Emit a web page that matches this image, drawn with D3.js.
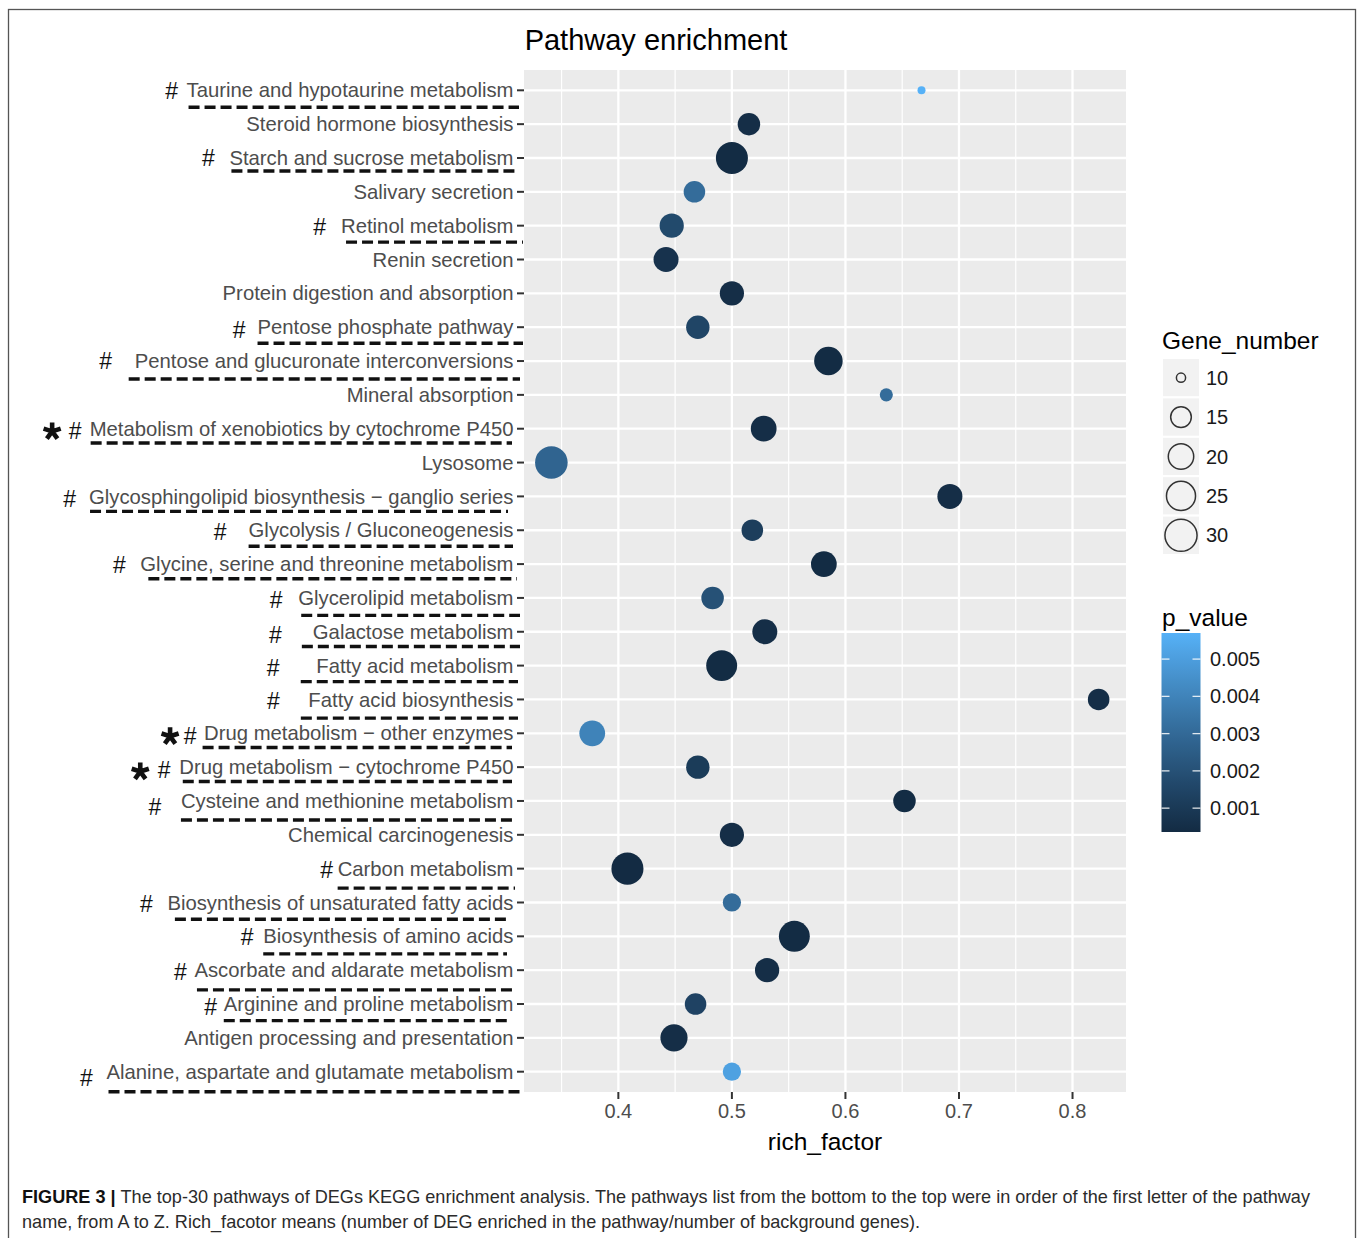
<!DOCTYPE html>
<html>
<head>
<meta charset="utf-8">
<script src="https://cdn.jsdelivr.net/npm/d3@7"></script>
<style>
  html, body { margin: 0; padding: 0; background: #ffffff; }
  svg { display: block; font-family: "Liberation Sans", Arial, sans-serif; }
</style>
</head>
<body>
<svg id="chart" width="1358" height="1238"></svg>
<script>
// KEGG pathways, alphabetical (A at the bottom of the chart)
const pathways = [
  "Alanine, aspartate and glutamate metabolism",
  "Antigen processing and presentation",
  "Arginine and proline metabolism",
  "Ascorbate and aldarate metabolism",
  "Biosynthesis of amino acids",
  "Biosynthesis of unsaturated fatty acids",
  "Carbon metabolism",
  "Chemical carcinogenesis",
  "Cysteine and methionine metabolism",
  "Drug metabolism \u2212 cytochrome P450",
  "Drug metabolism \u2212 other enzymes",
  "Fatty acid biosynthesis",
  "Fatty acid metabolism",
  "Galactose metabolism",
  "Glycerolipid metabolism",
  "Glycine, serine and threonine metabolism",
  "Glycolysis / Gluconeogenesis",
  "Glycosphingolipid biosynthesis \u2212 ganglio series",
  "Lysosome",
  "Metabolism of xenobiotics by cytochrome P450",
  "Mineral absorption",
  "Pentose and glucuronate interconversions",
  "Pentose phosphate pathway",
  "Protein digestion and absorption",
  "Renin secretion",
  "Retinol metabolism",
  "Salivary secretion",
  "Starch and sucrose metabolism",
  "Steroid hormone biosynthesis",
  "Taurine and hypotaurine metabolism"
];
const richFactor = [
  0.500, 0.449, 0.468, 0.531, 0.555, 0.500, 0.408, 0.500, 0.652, 0.470,
  0.377, 0.823, 0.491, 0.529, 0.483, 0.581, 0.518, 0.692, 0.341, 0.528,
  0.636, 0.585, 0.470, 0.500, 0.442, 0.447, 0.467, 0.500, 0.515, 0.667
];
const geneNumber = [
  14, 24, 17, 20, 30, 14, 32, 20, 18, 19,
  22, 17, 30, 21, 18, 22, 17, 21, 33, 22,
  11, 26, 19, 20, 21, 20, 17, 32, 18, 10
];
const pValue = [
  0.0051, 0.0005, 0.0014, 0.0005, 0.0004, 0.0031, 0.00036, 0.0005, 0.0004, 0.0011,
  0.0040, 0.0005, 0.0004, 0.0005, 0.0020, 0.0004, 0.0012, 0.0005, 0.0028, 0.0005,
  0.0031, 0.0004, 0.0015, 0.0005, 0.0007, 0.0017, 0.0031, 0.0004, 0.0005, 0.0057
];
const xTicks = [0.4, 0.5, 0.6, 0.7, 0.8];
const sizeBreaks = [10, 15, 20, 25, 30];
const pBreaks = [0.001, 0.002, 0.003, 0.004, 0.005];
const pBreakLabels = ["0.001", "0.002", "0.003", "0.004", "0.005"];

// Hand-drawn marks beside selected labels: "#" / "*" offsets from the label's
// left edge, underline start (from label edge) and end (from the axis line).
const labelNotes = {
  "Taurine and hypotaurine metabolism":               { hash: 15,   hashDy: 1,   line: [2, -5],     lineDy: 17 },
  "Starch and sucrose metabolism":                    { hash: 21,   hashDy: 0,   line: [2, -9],     lineDy: 13 },
  "Retinol metabolism":                               { hash: 21.5, hashDy: 1,   line: [5, -1],     lineDy: 16.5 },
  "Pentose phosphate pathway":                        { hash: 18.5, hashDy: 2.5, line: [0, -1],     lineDy: 16 },
  "Pentose and glucuronate interconversions":         { hash: 29,   hashDy: 0,   line: [-6, -4],    lineDy: 18 },
  "Metabolism of xenobiotics by cytochrome P450":     { hash: 14.5, hashDy: 2,   line: [1, -12],    lineDy: 14.3, star: 37.5, starDy: 2.7 },
  "Glycosphingolipid biosynthesis \u2212 ganglio series": { hash: 19.5, hashDy: 3, line: [1, -16],  lineDy: 15 },
  "Glycolysis / Gluconeogenesis":                     { hash: 28.5, hashDy: 2,   line: [0, -11],    lineDy: 16 },
  "Glycine, serine and threonine metabolism":         { hash: 21,   hashDy: 1,   line: [8, -7],     lineDy: 14.7 },
  "Glycerolipid metabolism":                          { hash: 22,   hashDy: 2,   line: [3, -4],     lineDy: 17.5 },
  "Galactose metabolism":                             { hash: 37.5, hashDy: 3,   line: [-11, -4],   lineDy: 14.7 },
  "Fatty acid metabolism":                            { hash: 43,   hashDy: 2,   line: [-15.5, -6], lineDy: 16 },
  "Fatty acid biosynthesis":                          { hash: 35,   hashDy: 2,   line: [-7.5, -6],  lineDy: 18.7 },
  "Drug metabolism \u2212 other enzymes":             { hash: 14,   hashDy: 3,   line: [-1.5, -12], lineDy: 14.2, star: 34, starDy: 3 },
  "Drug metabolism \u2212 cytochrome P450":           { hash: 15,   hashDy: 3,   line: [3.5, -12],  lineDy: 14.4, star: 39, starDy: 4.4 },
  "Cysteine and methionine metabolism":               { hash: 26,   hashDy: 5.5, line: [0, -11],    lineDy: 19 },
  "Carbon metabolism":                                { hash: 11,   hashDy: 1,   line: [0, -9],     lineDy: 19.5 },
  "Biosynthesis of unsaturated fatty acids":          { hash: 21,   hashDy: 1.5, line: [7.5, -17],  lineDy: 16.7 },
  "Biosynthesis of amino acids":                      { hash: 16,   hashDy: 1,   line: [0, -17],    lineDy: 17.5 },
  "Ascorbate and aldarate metabolism":                { hash: 14,   hashDy: 1.5, line: [2.5, -9],   lineDy: 19.7 },
  "Arginine and proline metabolism":                  { hash: 13,   hashDy: 3,   line: [0, -16],    lineDy: 16.6 },
  "Alanine, aspartate and glutamate metabolism":      { hash: 20,   hashDy: 6,   line: [2, -2],     lineDy: 20 }
};

const svg = d3.select("#chart");
const panel = { left: 524, right: 1126, top: 70, bottom: 1092 };

const rows = pathways.map((p, i) => ({
  name: p, rich: richFactor[i], genes: geneNumber[i], p: pValue[i]
}));

// x: continuous with 5% expansion on each side
const [xMin, xMax] = d3.extent(richFactor);
const xPad = (xMax - xMin) * 0.05;
const x = d3.scaleLinear().domain([xMin - xPad, xMax + xPad]).range([panel.left, panel.right]);

// y: discrete, first category at the bottom
const y = d3.scalePoint()
  .domain(pathways.slice().reverse())
  .range([panel.top, panel.bottom])
  .padding(0.6);

// point size: area-proportional between the smallest and largest gene count
const [gMin, gMax] = d3.extent(geneNumber);
const sizeScale = d3.scaleSqrt().domain([0, gMax - gMin]).range([4, 16.3]);
const radius = v => sizeScale(Math.max(0, v - gMin));

// colour: low p dark navy -> high p light blue
const pExtent = d3.extent(pValue);
const color = d3.scaleLinear().domain(pExtent).range(["#132B43", "#56B1F7"]).interpolate(d3.interpolateLab);

// outer frame
svg.append("rect")
  .attr("x", 8.5).attr("y", 9.5).attr("width", 1347).attr("height", 1260)
  .attr("fill", "none").attr("stroke", "#555").attr("stroke-width", 1.3);

// title
svg.append("text")
  .attr("x", 656).attr("y", 40).attr("dy", "0.35em")
  .attr("text-anchor", "middle")
  .attr("font-size", 29).attr("fill", "#000")
  .text("Pathway enrichment");

// panel background
svg.append("rect")
  .attr("x", panel.left).attr("y", panel.top)
  .attr("width", panel.right - panel.left).attr("height", panel.bottom - panel.top)
  .attr("fill", "#EBEBEB");

const grid = svg.append("g");
const [d0, d1] = x.domain();
const minorTicks = d3.range(Math.ceil(d0 * 20) / 20, d1, 0.1)
  .filter(v => !xTicks.some(t => Math.abs(t - v) < 1e-6));
grid.selectAll("line.minor").data(minorTicks).join("line")
  .attr("class", "minor")
  .attr("x1", d => x(d)).attr("x2", d => x(d))
  .attr("y1", panel.top).attr("y2", panel.bottom)
  .attr("stroke", "#fff").attr("stroke-width", 1.2);
grid.selectAll("line.vmajor").data(xTicks).join("line")
  .attr("class", "vmajor")
  .attr("x1", d => x(d)).attr("x2", d => x(d))
  .attr("y1", panel.top).attr("y2", panel.bottom)
  .attr("stroke", "#fff").attr("stroke-width", 2.3);
grid.selectAll("line.hmajor").data(pathways).join("line")
  .attr("class", "hmajor")
  .attr("x1", panel.left).attr("x2", panel.right)
  .attr("y1", d => y(d)).attr("y2", d => y(d))
  .attr("stroke", "#fff").attr("stroke-width", 2.3);

// points
svg.append("g").selectAll("circle").data(rows).join("circle")
  .attr("cx", d => x(d.rich))
  .attr("cy", d => y(d.name))
  .attr("r", d => radius(d.genes))
  .attr("fill", d => color(d.p));

// y axis
const yAxis = svg.append("g");
yAxis.selectAll("line").data(pathways).join("line")
  .attr("x1", panel.left - 7).attr("x2", panel.left)
  .attr("y1", d => y(d)).attr("y2", d => y(d))
  .attr("stroke", "#333").attr("stroke-width", 2);
const yLabels = yAxis.selectAll("text").data(pathways).join("text")
  .attr("x", panel.left - 10.5).attr("y", d => y(d)).attr("dy", "0.35em")
  .attr("text-anchor", "end")
  .attr("font-size", 20.3).attr("fill", "#4D4D4D")
  .text(d => d);

// x axis
const xAxis = svg.append("g");
xAxis.selectAll("line").data(xTicks).join("line")
  .attr("x1", d => x(d)).attr("x2", d => x(d))
  .attr("y1", panel.bottom).attr("y2", panel.bottom + 7)
  .attr("stroke", "#333").attr("stroke-width", 2);
xAxis.selectAll("text").data(xTicks).join("text")
  .attr("x", d => x(d)).attr("y", 1111).attr("dy", "0.35em")
  .attr("text-anchor", "middle")
  .attr("font-size", 20).attr("fill", "#4D4D4D")
  .text(d => d3.format(".1f")(d));
svg.append("text")
  .attr("x", (panel.left + panel.right) / 2).attr("y", 1141).attr("dy", "0.35em")
  .attr("text-anchor", "middle").attr("font-size", 24.5).attr("fill", "#000")
  .text("rich_factor");

// label marks: '#', '*' and dashed underlines
const notes = svg.append("g");
function starPath(cx, cy, len) {
  let d = "";
  for (let k = 0; k < 5; k++) {
    const a = -Math.PI / 2 + k * 2 * Math.PI / 5;
    d += `M${cx},${cy}L${cx + len * Math.cos(a)},${cy + len * Math.sin(a)}`;
  }
  return d;
}
yLabels.each(function (name) {
  const note = labelNotes[name];
  if (!note) return;
  const w = this.getComputedTextLength();
  const right = panel.left - 10.5;
  const left = right - w;
  const cy = y(name);
  notes.append("text")
    .attr("x", left - note.hash).attr("y", cy + note.hashDy).attr("dy", "0.35em")
    .attr("text-anchor", "middle").attr("font-size", 23).attr("fill", "#111")
    .text("#");
  if (note.star) {
    notes.append("path")
      .attr("d", starPath(left - note.star, cy + note.starDy, 9))
      .attr("stroke", "#111").attr("stroke-width", 4.6).attr("fill", "none");
  }
  notes.append("line")
    .attr("x1", left + note.line[0]).attr("x2", panel.left + note.line[1])
    .attr("y1", cy + note.lineDy).attr("y2", cy + note.lineDy)
    .attr("stroke", "#111").attr("stroke-width", 3.4)
    .attr("stroke-dasharray", "11,5");
});

// size legend
const sizeLegend = svg.append("g");
sizeLegend.append("text")
  .attr("x", 1162).attr("y", 340).attr("dy", "0.35em")
  .attr("font-size", 24.5).attr("fill", "#000").text("Gene_number");
const keyTop = 358, keyH = 39.4, keyW = 38;
const keys = sizeLegend.selectAll("g.key").data(sizeBreaks).join("g").attr("class", "key");
keys.append("rect")
  .attr("x", 1162).attr("y", (d, i) => keyTop + i * keyH)
  .attr("width", keyW).attr("height", keyH)
  .attr("fill", "#F2F2F2").attr("stroke", "#fff").attr("stroke-width", 2);
keys.append("circle")
  .attr("cx", 1162 + keyW / 2).attr("cy", (d, i) => keyTop + i * keyH + keyH / 2)
  .attr("r", d => radius(d) + 0.6)
  .attr("fill", "none").attr("stroke", "#333").attr("stroke-width", 1.5);
keys.append("text")
  .attr("x", 1206).attr("y", (d, i) => keyTop + i * keyH + keyH / 2).attr("dy", "0.35em")
  .attr("font-size", 20).attr("fill", "#1A1A1A").text(d => d);

// colour bar legend
const barX = 1161.5, barW = 39, barTop = 633, barBottom = 832;
const yBar = d3.scaleLinear().domain(pExtent).range([barBottom, barTop]);
svg.append("text")
  .attr("x", 1162).attr("y", 617).attr("dy", "0.35em")
  .attr("font-size", 24.5).attr("fill", "#000").text("p_value");
const grad = svg.append("defs").append("linearGradient")
  .attr("id", "pgrad").attr("x1", 0).attr("y1", 1).attr("x2", 0).attr("y2", 0);
d3.range(0, 1.0001, 0.05).forEach(t => {
  grad.append("stop").attr("offset", t)
    .attr("stop-color", color(pExtent[0] + t * (pExtent[1] - pExtent[0])));
});
svg.append("rect")
  .attr("x", barX).attr("y", barTop).attr("width", barW).attr("height", barBottom - barTop)
  .attr("fill", "url(#pgrad)");
const barTicks = svg.append("g");
pBreaks.forEach((v, i) => {
  const ty = yBar(v);
  barTicks.append("line").attr("x1", barX).attr("x2", barX + 8).attr("y1", ty).attr("y2", ty)
    .attr("stroke", "#fff").attr("stroke-width", 1.3).attr("opacity", 0.85);
  barTicks.append("line").attr("x1", barX + barW - 8).attr("x2", barX + barW).attr("y1", ty).attr("y2", ty)
    .attr("stroke", "#fff").attr("stroke-width", 1.3).attr("opacity", 0.85);
  barTicks.append("text").attr("x", 1210).attr("y", ty).attr("dy", "0.35em")
    .attr("font-size", 20).attr("fill", "#1A1A1A").text(pBreakLabels[i]);
});

// caption
const cap1 = svg.append("text").attr("x", 22).attr("y", 1197).attr("dy", "0.35em")
  .attr("font-size", 18.1).attr("fill", "#2B2B2B");
cap1.append("tspan").attr("font-weight", "bold").attr("fill", "#111").text("FIGURE 3 | ");
cap1.append("tspan").text("The top-30 pathways of DEGs KEGG enrichment analysis. The pathways list from the bottom to the top were in order of the first letter of the pathway");
svg.append("text").attr("x", 22).attr("y", 1222).attr("dy", "0.35em")
  .attr("font-size", 18.1).attr("fill", "#2B2B2B")
  .text("name, from A to Z. Rich_facotor means (number of DEG enriched in the pathway/number of background genes).");
</script>
</body>
</html>
